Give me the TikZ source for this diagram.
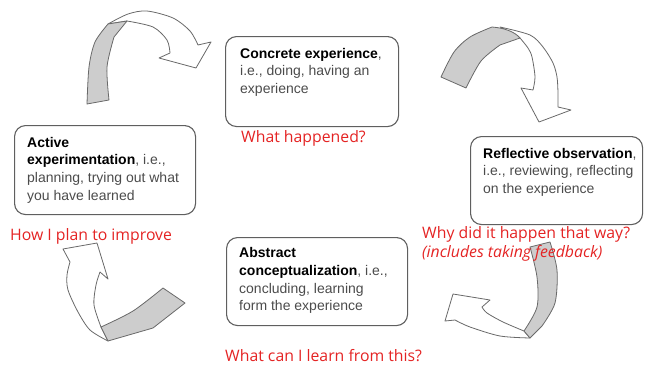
\documentclass[tikz,border=0pt]{standalone}
\usepackage{fontspec}
\setmainfont{Liberation Sans}
\newfontfamily\notefont{Open Sans}
\definecolor{boxline}{RGB}{95,95,95}
\definecolor{bodygray}{RGB}{75,75,75}
\definecolor{notered}{RGB}{228,35,35}
\definecolor{ribbonline}{RGB}{105,105,105}
\definecolor{ribbongray}{RGB}{205,205,205}
\newcommand\stagename[1]{\textcolor{black}{\textbf{#1}}}

\begin{document}
\begin{tikzpicture}[x=1pt,y=-1pt,
  stagebox/.style={draw=boxline, line width=1.1pt, rounded corners=11pt,
    inner sep=0pt, anchor=north west},
  stagetext/.style={anchor=north west, inner sep=0pt, align=left,
    text=bodygray, font=\fontsize{14}{17.6}\selectfont},
  note/.style={anchor=base west, inner sep=0pt, text=notered,
    font=\notefont\fontsize{15.8}{19}\selectfont},
  ribbonfront/.style={draw=ribbonline, line width=0.8pt, fill=white, line join=round},
  ribbonback/.style={draw=ribbonline, line width=0.8pt, fill=ribbongray, line join=round},
]
\useasboundingbox (0,0) rectangle (648,367);

% ---- twisted ribbon arrows between the stages ----
% top left: rising from the left, pointing at the first stage
\path[ribbonfront] plot[smooth] coordinates {(108,24) (128,14) (147,11) (173,18) (190,31) (198,45)}
  -- (211,42) -- (196,68) -- (159,58)
  -- plot[smooth] coordinates {(170,53) (167,40) (153,27) (127,21)} -- cycle;
\path[ribbonback] plot[smooth] coordinates {(87,104) (89,67) (95,42) (108,24)}
  -- (127,21)
  -- plot[smooth] coordinates {(114,37) (107,67) (109,100)} -- cycle;

% top right: over the top, pointing down
\path[ribbonfront] plot[smooth] coordinates {(500,27) (530,35) (543,47) (553,63) (557,77) (558,93) (558,107)}
  -- (571,110) -- (539,122) -- (521,88)
  -- plot[smooth] coordinates {(533,90) (535,77) (532,57) (528,48) (520,38)} -- cycle;
\path[ribbonback] plot[smooth] coordinates {(441,77) (454,52) (470,37) (492,27)}
  .. controls (505,28) and (515,32) .. (520,38)
  -- plot[smooth] coordinates {(500,45) (481,61) (466,88)} -- cycle;

% bottom right: coming down, pointing left
\path[ribbonfront] plot[smooth] coordinates {(524,331) (503,322) (487,313) (482,307)}
  -- (490,300) -- (453,294) -- (445,321)
  -- plot[smooth] coordinates {(455,320) (470,327) (500,336) (530,338)} -- cycle;
\path[ribbonback] plot[smooth] coordinates {(530,247) (537,277) (537,307) (524,331)}
  -- (530,338)
  -- plot[smooth] coordinates {(542,326) (555,303) (557,270) (550,242)} -- cycle;

% bottom left: sweeping under, pointing up
\path[ribbonfront] plot[smooth] coordinates {(108,341) (90,330) (78,312) (68,290) (67,275) (70,262)}
  -- (63,249) -- (97,243) -- (108,279)
  -- plot[smooth] coordinates {(100,272) (96,285) (94,305) (101,327)} -- cycle;
\path[ribbonback] plot[smooth] coordinates {(163,288) (133,311) (101,327)}
  -- (108,341)
  -- plot[smooth] coordinates {(153,328) (185,303)} -- cycle;

% ---- the four stages ----
\node[stagebox, minimum width=173pt, minimum height=90pt] (ce) at (225,36) {};
\node[stagetext] (cetext) at (240,48)
  {\stagename{Concrete experience},\\ i.e., doing, having an\\ experience};
\node[note] (ceq) at (241,142.5) {What happened?};

\node[stagebox, minimum width=172pt, minimum height=88pt] (ro) at (470,136) {};
\node[stagetext] (rotext) at (483,148)
  {\stagename{Reflective observation},\\ i.e., reviewing, reflecting\\ on the experience};
\node[note] (roq) at (422,238) {Why did it happen that way?};
\node[note] (roq2) at (422,257.5) {\itshape (includes taking feedback)};

\node[stagebox, minimum width=181pt, minimum height=88pt] (ac) at (226,237) {};
\node[stagetext] (actext) at (239,247.5)
  {\stagename{Abstract}\\ \stagename{conceptualization}, i.e.,\\ concluding, learning\\ form the experience};
\node[note] (acq) at (225,361) {What can I learn from this?};

\node[stagebox, minimum width=181pt, minimum height=89pt] (ae) at (14,125) {};
\node[stagetext] (aetext) at (27,137)
  {\stagename{Active}\\ \stagename{experimentation}, i.e.,\\ planning, trying out what\\ you have learned};
\node[note] (aeq) at (10,240) {How I plan to improve};
\end{tikzpicture}
\end{document}
